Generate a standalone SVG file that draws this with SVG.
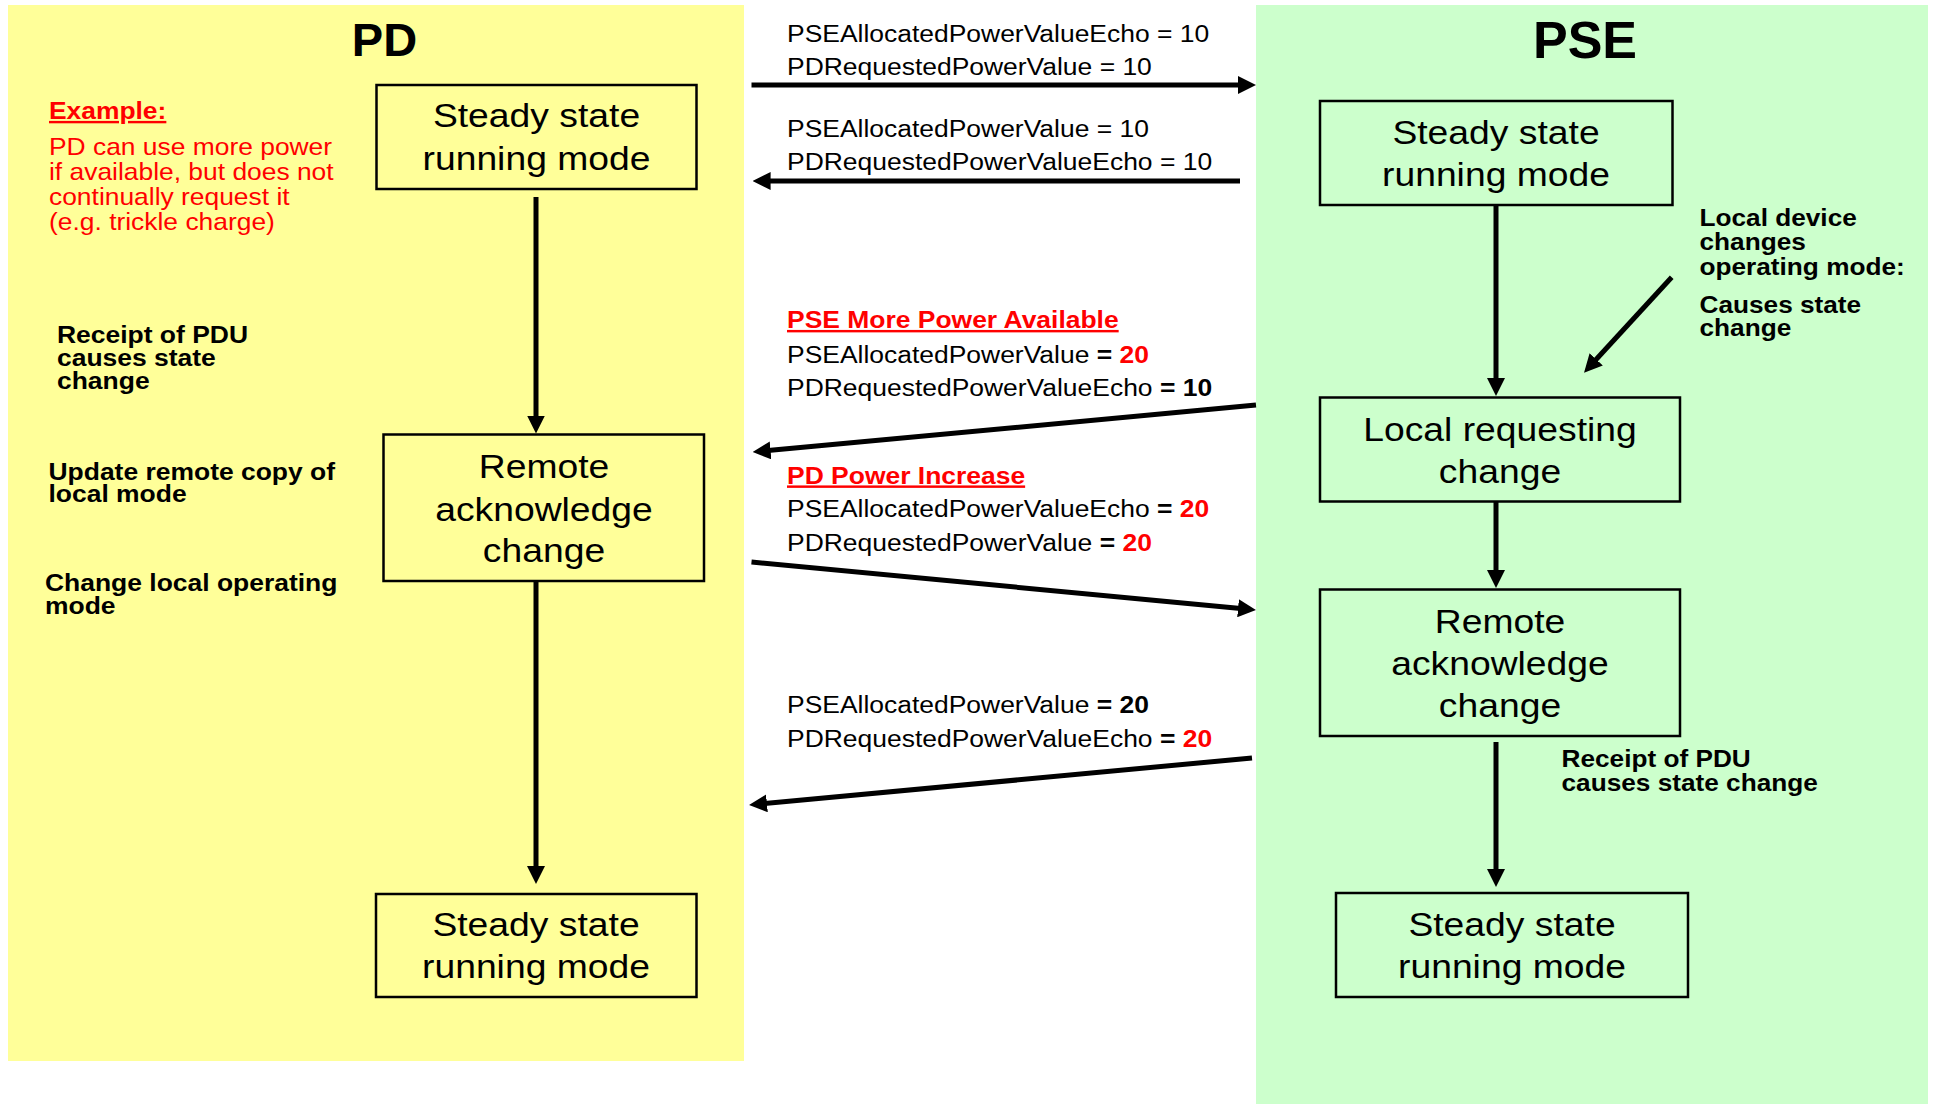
<svg xmlns="http://www.w3.org/2000/svg" width="1933" height="1104" viewBox="0 0 1933 1104">
  <defs>
    <style>
      text { font-family: "Liberation Sans", Arial, Helvetica, sans-serif; fill: #000; }
      .title { font-weight: bold; text-anchor: middle; }
      .box { fill: none; stroke: #000; stroke-width: 2.5; }
      .bt { font-size: 33px; text-anchor: middle; }
      .mt { font-size: 24.5px; }
      .note { font-size: 24.5px; font-weight: bold; }
      .red { fill: #ff0000; }
      .b { font-weight: bold; }
      .ul { font-weight: bold; fill: #ff0000; text-decoration: underline; }
      .conn { stroke: #000; stroke-width: 5; fill: none; marker-end: url(#ah); }
    </style>
    <marker id="ah" markerUnits="userSpaceOnUse" markerWidth="18" markerHeight="18" refX="8" refY="9" orient="auto">
      <path d="M0,0 L18,9 L0,18 Z" fill="#000"/>
    </marker>
  </defs>

  <!-- lane backgrounds -->
  <rect id="lane-pd" x="8" y="5" width="736" height="1056" fill="#ffff99"/>
  <rect id="lane-pse" x="1256" y="5" width="672" height="1099" fill="#ccffcc"/>

  <text class="title" font-size="47" x="384.5" y="56">PD</text>
  <text class="title" font-size="52" x="1585" y="57.5">PSE</text>

  <!-- PD side annotations -->
  <g id="pd-example">
    <text class="ul" font-size="24" transform="translate(49 119) scale(1.1 1)">Example:</text>
    <text class="red" font-size="24" transform="translate(49 155) scale(1.1 1)">
      <tspan x="0" dy="0">PD can use more power</tspan>
      <tspan x="0" dy="25">if available, but does not</tspan>
      <tspan x="0" dy="25">continually request it</tspan>
      <tspan x="0" dy="25">(e.g. trickle charge)</tspan>
    </text>
  </g>
  <g id="pd-note-receipt">
    <text class="note" transform="translate(57 343) scale(1.08 1)">
      <tspan x="0" dy="0">Receipt of PDU</tspan>
      <tspan x="0" dy="23">causes state</tspan>
      <tspan x="0" dy="23">change</tspan>
    </text>
  </g>
  <g id="pd-note-update">
    <text class="note" transform="translate(48.5 479.5) scale(1.08 1)">
      <tspan x="0" dy="0">Update remote copy of</tspan>
      <tspan x="0" dy="23">local mode</tspan>
    </text>
  </g>
  <g id="pd-note-change">
    <text class="note" transform="translate(45 591) scale(1.08 1)">
      <tspan x="0" dy="0">Change local operating</tspan>
      <tspan x="0" dy="23">mode</tspan>
    </text>
  </g>

  <!-- PD state nodes -->
  <g id="pd-steady-1">
    <rect class="box" x="376.5" y="85" width="320" height="104"/>
    <text class="bt" transform="translate(536.5 127) scale(1.13 1)">Steady state</text>
    <text class="bt" transform="translate(536.5 170) scale(1.13 1)">running mode</text>
  </g>
  <g id="pd-remote-ack">
    <rect class="box" x="383.5" y="434.5" width="320.5" height="146.5"/>
    <text class="bt" transform="translate(544 478) scale(1.13 1)">Remote</text>
    <text class="bt" transform="translate(544 520.5) scale(1.13 1)">acknowledge</text>
    <text class="bt" transform="translate(544 562) scale(1.13 1)">change</text>
  </g>
  <g id="pd-steady-2">
    <rect class="box" x="376" y="894" width="320.5" height="103"/>
    <text class="bt" transform="translate(536 936) scale(1.13 1)">Steady state</text>
    <text class="bt" transform="translate(536 978) scale(1.13 1)">running mode</text>
  </g>

  <!-- PSE state nodes -->
  <g id="pse-steady-1">
    <rect class="box" x="1320" y="101" width="352.5" height="104"/>
    <text class="bt" transform="translate(1496 143.5) scale(1.13 1)">Steady state</text>
    <text class="bt" transform="translate(1496 186) scale(1.13 1)">running mode</text>
  </g>
  <g id="pse-local-req">
    <rect class="box" x="1320" y="397.5" width="360" height="104"/>
    <text class="bt" transform="translate(1500 441) scale(1.13 1)">Local requesting</text>
    <text class="bt" transform="translate(1500 483) scale(1.13 1)">change</text>
  </g>
  <g id="pse-remote-ack">
    <rect class="box" x="1320" y="589.5" width="360" height="146.5"/>
    <text class="bt" transform="translate(1500 633) scale(1.13 1)">Remote</text>
    <text class="bt" transform="translate(1500 675) scale(1.13 1)">acknowledge</text>
    <text class="bt" transform="translate(1500 717) scale(1.13 1)">change</text>
  </g>
  <g id="pse-steady-2">
    <rect class="box" x="1336" y="893" width="352" height="104"/>
    <text class="bt" transform="translate(1512 936) scale(1.13 1)">Steady state</text>
    <text class="bt" transform="translate(1512 978) scale(1.13 1)">running mode</text>
  </g>

  <!-- PSE side annotations -->
  <g id="pse-note-local">
    <text class="note" transform="translate(1699.5 226) scale(1.07 1)">
      <tspan x="0" dy="0">Local device</tspan>
      <tspan x="0" dy="24.5">changes</tspan>
      <tspan x="0" dy="24.5">operating mode:</tspan>
    </text>
    <text class="note" transform="translate(1699.5 312.5) scale(1.07 1)">
      <tspan x="0" dy="0">Causes state</tspan>
      <tspan x="0" dy="23.5">change</tspan>
    </text>
  </g>
  <g id="pse-note-receipt">
    <text class="note" transform="translate(1561.5 767) scale(1.07 1)">
      <tspan x="0" dy="0">Receipt of PDU</tspan>
      <tspan x="0" dy="24">causes state change</tspan>
    </text>
  </g>

  <!-- message labels -->
  <g id="msg-labels">
    <text class="mt" transform="translate(787 42) scale(1.08 1)">
      <tspan x="0" dy="0">PSEAllocatedPowerValueEcho = 10</tspan>
      <tspan x="0" dy="33">PDRequestedPowerValue = 10</tspan>
    </text>
    <text class="mt" transform="translate(787 137) scale(1.08 1)">
      <tspan x="0" dy="0">PSEAllocatedPowerValue = 10</tspan>
      <tspan x="0" dy="33">PDRequestedPowerValueEcho = 10</tspan>
    </text>
    <text class="mt" transform="translate(787 328) scale(1.08 1)">
      <tspan x="0" dy="0" class="ul">PSE More Power Available</tspan>
      <tspan x="0" dy="35">PSEAllocatedPowerValue <tspan class="b">= </tspan><tspan class="b red">20</tspan></tspan>
      <tspan x="0" dy="33.5">PDRequestedPowerValueEcho <tspan class="b">= 10</tspan></tspan>
    </text>
    <text class="mt" transform="translate(787 483.5) scale(1.08 1)">
      <tspan x="0" dy="0" class="ul">PD Power Increase</tspan>
      <tspan x="0" dy="33.5">PSEAllocatedPowerValueEcho <tspan class="b">= </tspan><tspan class="b red">20</tspan></tspan>
      <tspan x="0" dy="34.5">PDRequestedPowerValue <tspan class="b">= </tspan><tspan class="b red">20</tspan></tspan>
    </text>
    <text class="mt" transform="translate(787 713) scale(1.08 1)">
      <tspan x="0" dy="0">PSEAllocatedPowerValue <tspan class="b">= 20</tspan></tspan>
      <tspan x="0" dy="34">PDRequestedPowerValueEcho <tspan class="b">= </tspan><tspan class="b red">20</tspan></tspan>
    </text>
  </g>

  <!-- connectors -->
  <g id="connectors">
    <line class="conn" x1="751.5" y1="85" x2="1246" y2="85"/>
    <line class="conn" x1="1240" y1="181" x2="762.6" y2="181"/>
    <line class="conn" x1="1256" y1="405" x2="762.6" y2="451.1"/>
    <line class="conn" x1="751.5" y1="562" x2="1246" y2="609"/>
    <line class="conn" x1="1252" y1="758" x2="759" y2="804.1"/>
    <line class="conn" x1="536" y1="197" x2="536" y2="423.5"/>
    <line class="conn" x1="536" y1="581" x2="536" y2="874"/>
    <line class="conn" x1="1496" y1="205" x2="1496" y2="386"/>
    <line class="conn" x1="1496" y1="502" x2="1496" y2="578"/>
    <line class="conn" x1="1496" y1="742" x2="1496" y2="877"/>
    <line class="conn" x1="1671.7" y1="277.3" x2="1590.8" y2="365.3"/>
  </g>
</svg>
